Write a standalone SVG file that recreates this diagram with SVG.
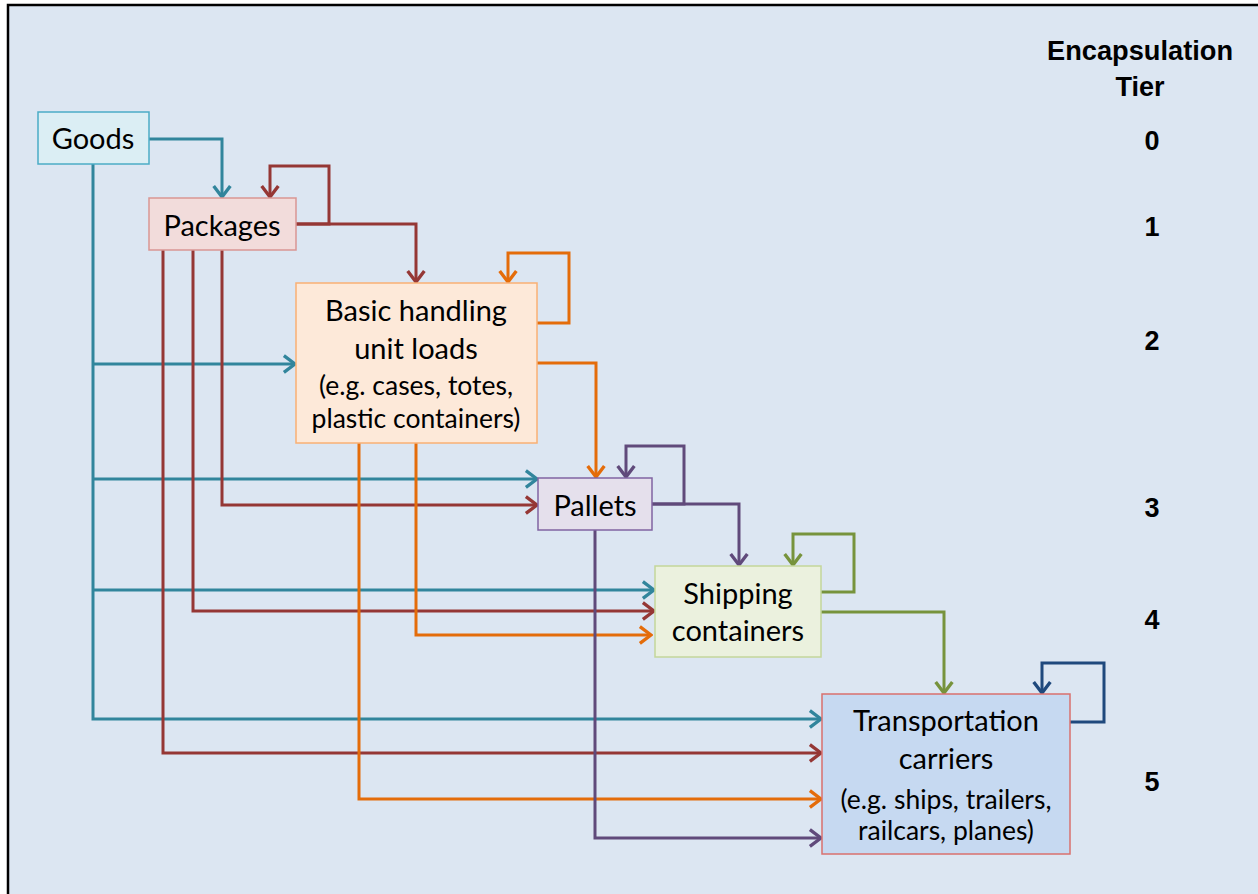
<svg xmlns="http://www.w3.org/2000/svg" width="1258" height="894" viewBox="0 0 1258 894">
<defs>
<style>
.bx{stroke-width:1.5}
.lbl{font-family:Lato,"Open Sans","Liberation Sans",sans-serif;font-size:29px;fill:#000;text-anchor:middle}
.sm{font-size:26.5px}
.tier{font-family:"Liberation Sans",Arial,sans-serif;font-weight:bold;font-size:27px;fill:#000;text-anchor:middle}
.c{fill:none;stroke-width:3;stroke-linejoin:miter}
.teal{stroke:#31859c}.red{stroke:#953735}.org{stroke:#e46c0a}.pur{stroke:#604a7b}.grn{stroke:#77933c}.nav{stroke:#1f497d}
</style>
<marker id="aT" markerUnits="userSpaceOnUse" markerWidth="16" markerHeight="20" viewBox="-12 -9 14 18" refX="0" refY="0" orient="auto"><path d="M-10,-7.5 L0,0 L-10,7.5" fill="none" stroke="#31859c" stroke-width="3"/></marker>
<marker id="aR" markerUnits="userSpaceOnUse" markerWidth="16" markerHeight="20" viewBox="-12 -9 14 18" refX="0" refY="0" orient="auto"><path d="M-10,-7.5 L0,0 L-10,7.5" fill="none" stroke="#953735" stroke-width="3"/></marker>
<marker id="aO" markerUnits="userSpaceOnUse" markerWidth="16" markerHeight="20" viewBox="-12 -9 14 18" refX="0" refY="0" orient="auto"><path d="M-10,-7.5 L0,0 L-10,7.5" fill="none" stroke="#e46c0a" stroke-width="3"/></marker>
<marker id="aP" markerUnits="userSpaceOnUse" markerWidth="16" markerHeight="20" viewBox="-12 -9 14 18" refX="0" refY="0" orient="auto"><path d="M-10,-7.5 L0,0 L-10,7.5" fill="none" stroke="#604a7b" stroke-width="3"/></marker>
<marker id="aG" markerUnits="userSpaceOnUse" markerWidth="16" markerHeight="20" viewBox="-12 -9 14 18" refX="0" refY="0" orient="auto"><path d="M-10,-7.5 L0,0 L-10,7.5" fill="none" stroke="#77933c" stroke-width="3"/></marker>
<marker id="aN" markerUnits="userSpaceOnUse" markerWidth="16" markerHeight="20" viewBox="-12 -9 14 18" refX="0" refY="0" orient="auto"><path d="M-10,-7.5 L0,0 L-10,7.5" fill="none" stroke="#1f497d" stroke-width="3"/></marker>
</defs>
<rect x="0" y="0" width="1258" height="894" fill="#ffffff"/>
<rect x="8" y="5" width="1252" height="892" fill="#dce6f2" stroke="#000" stroke-width="2.5"/>

<g id="connectors">
<path class="c teal" d="M149,139 H222 V197" marker-end="url(#aT)"/>
<path class="c teal" d="M93,164 V719 H821" marker-end="url(#aT)"/>
<path class="c teal" d="M93,364 H295" marker-end="url(#aT)"/>
<path class="c teal" d="M93,479 H537" marker-end="url(#aT)"/>
<path class="c teal" d="M93,590 H654" marker-end="url(#aT)"/>

<path class="c red" d="M296,224 H329 V166 H270 V197" marker-end="url(#aR)"/>
<path class="c red" d="M296,224 H416 V282" marker-end="url(#aR)"/>
<path class="c red" d="M222,250 V505 H537" marker-end="url(#aR)"/>
<path class="c red" d="M193,250 V611 H654" marker-end="url(#aR)"/>
<path class="c red" d="M163,250 V753 H821" marker-end="url(#aR)"/>

<path class="c org" d="M537,323 H569 V253 H508 V282" marker-end="url(#aO)"/>
<path class="c org" d="M537,363 H596 V477" marker-end="url(#aO)"/>
<path class="c org" d="M416,443 V635 H651" marker-end="url(#aO)"/>
<path class="c org" d="M359,443 V799 H821" marker-end="url(#aO)"/>

<path class="c pur" d="M652,504 H684 V446 H626 V477" marker-end="url(#aP)"/>
<path class="c pur" d="M652,504 H739 V565" marker-end="url(#aP)"/>
<path class="c pur" d="M595,530 V838 H821" marker-end="url(#aP)"/>

<path class="c grn" d="M821,592 H854 V534 H793 V565" marker-end="url(#aG)"/>
<path class="c grn" d="M821,612 H944 V693" marker-end="url(#aG)"/>

<path class="c nav" d="M1070,722 H1104 V663 H1042 V693" marker-end="url(#aN)"/>
</g>

<g id="goods">
<rect class="bx" x="38" y="112" width="111" height="52" fill="#dbeef4" stroke="#4bacc6"/>
<text class="lbl" x="93" y="149">Goods</text>
</g>
<g id="packages">
<rect class="bx" x="149" y="198" width="147" height="52" fill="#f2dcdb" stroke="#d99694"/>
<text class="lbl" x="222" y="236">Packages</text>
</g>
<g id="basic">
<rect class="bx" x="296" y="283" width="241" height="160" fill="#fde9d9" stroke="#f9b074"/>
<text class="lbl" x="416" y="321">Basic handling</text>
<text class="lbl" x="416" y="359">unit loads</text>
<text class="lbl sm" x="416" y="395">(e.g. cases, totes,</text>
<text class="lbl sm" x="416" y="428">plastic containers)</text>
</g>
<g id="pallets">
<rect class="bx" x="538" y="478" width="114" height="52" fill="#e5e0ec" stroke="#8064a2"/>
<text class="lbl" x="595" y="516">Pallets</text>
</g>
<g id="shipping">
<rect class="bx" x="655" y="566" width="166" height="91" fill="#ebf1de" stroke="#c3d69b"/>
<text class="lbl" x="738" y="604">Shipping</text>
<text class="lbl" x="738" y="641">containers</text>
</g>
<g id="transport">
<rect class="bx" x="822" y="694" width="248" height="160" fill="#c6d9f1" stroke="#d9706e"/>
<text class="lbl" x="946" y="731">Transportation</text>
<text class="lbl" x="946" y="769">carriers</text>
<text class="lbl sm" x="946" y="809">(e.g. ships, trailers,</text>
<text class="lbl sm" x="946" y="840">railcars, planes)</text>
</g>

<g id="tiers">
<text class="tier" x="1140" y="60" textLength="186" lengthAdjust="spacingAndGlyphs">Encapsulation</text>
<text class="tier" x="1140" y="96">Tier</text>
<text class="tier" x="1152" y="150">0</text>
<text class="tier" x="1152" y="236">1</text>
<text class="tier" x="1152" y="350">2</text>
<text class="tier" x="1152" y="517">3</text>
<text class="tier" x="1152" y="629">4</text>
<text class="tier" x="1152" y="791">5</text>
</g>
</svg>
